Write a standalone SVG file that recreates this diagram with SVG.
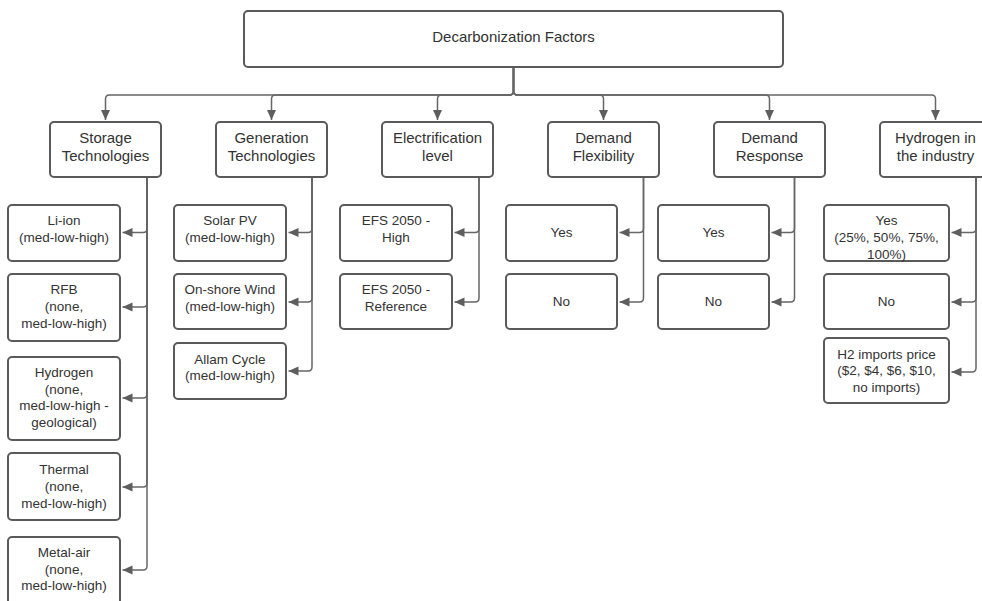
<svg xmlns="http://www.w3.org/2000/svg" width="982" height="601" viewBox="0 0 982 601">
<style>
.box{fill:#fff;stroke:#5a5a5a;stroke-width:2}
.t{font-family:"Liberation Sans",Arial,sans-serif;fill:#333;text-anchor:middle}
.l1{font-size:15px}
.l2{font-size:13.5px}
.c{fill:none;stroke:#666;stroke-width:1.5}
</style>
<defs>
<marker id="ah" markerUnits="userSpaceOnUse" markerWidth="10" markerHeight="10" viewBox="0 0 10 10" refX="10" refY="5" orient="auto">
<path d="M0,0.5 L10,5 L0,9.5 z" fill="#5e5e5e"/>
</marker>
</defs>
<rect width="982" height="601" fill="#fff"/>
<g id="connectors">
<path class="c" marker-end="url(#ah)" d="M513.5 67 V91 Q513.5 95 509.5 95 H109.5 Q105.5 95 105.5 99 V120"/>
<path class="c" marker-end="url(#ah)" d="M513.5 67 V91 Q513.5 95 509.5 95 H275.5 Q271.5 95 271.5 99 V120"/>
<path class="c" marker-end="url(#ah)" d="M513.5 67 V91 Q513.5 95 509.5 95 H441.5 Q437.5 95 437.5 99 V120"/>
<path class="c" marker-end="url(#ah)" d="M513.5 67 V91 Q513.5 95 517.5 95 H599.5 Q603.5 95 603.5 99 V120"/>
<path class="c" marker-end="url(#ah)" d="M513.5 67 V91 Q513.5 95 517.5 95 H765.5 Q769.5 95 769.5 99 V120"/>
<path class="c" marker-end="url(#ah)" d="M513.5 67 V91 Q513.5 95 517.5 95 H931.5 Q935.5 95 935.5 99 V120"/>

<path class="c" marker-end="url(#ah)" d="M147 177 V228.5 Q147 232.5 143 232.5 H122.5"/>
<path class="c" marker-end="url(#ah)" d="M147 177 V303 Q147 307 143 307 H122.5"/>
<path class="c" marker-end="url(#ah)" d="M147 177 V394 Q147 398 143 398 H122.5"/>
<path class="c" marker-end="url(#ah)" d="M147 177 V483 Q147 487 143 487 H122.5"/>
<path class="c" marker-end="url(#ah)" d="M147 177 V566 Q147 570 143 570 H122.5"/>

<path class="c" marker-end="url(#ah)" d="M312 177 V228.5 Q312 232.5 308 232.5 H288.5"/>
<path class="c" marker-end="url(#ah)" d="M312 177 V298 Q312 302 308 302 H288.5"/>
<path class="c" marker-end="url(#ah)" d="M312 177 V367 Q312 371 308 371 H288.5"/>

<path class="c" marker-end="url(#ah)" d="M479 177 V228.5 Q479 232.5 475 232.5 H454.5"/>
<path class="c" marker-end="url(#ah)" d="M479 177 V298 Q479 302 475 302 H454.5"/>

<path class="c" marker-end="url(#ah)" d="M643.5 177 V228.5 Q643.5 232.5 639.5 232.5 H619.5"/>
<path class="c" marker-end="url(#ah)" d="M643.5 177 V298 Q643.5 302 639.5 302 H619.5"/>

<path class="c" marker-end="url(#ah)" d="M794.5 177 V228.5 Q794.5 232.5 790.5 232.5 H771.5"/>
<path class="c" marker-end="url(#ah)" d="M794.5 177 V298 Q794.5 302 790.5 302 H771.5"/>

<path class="c" marker-end="url(#ah)" d="M976 177 V228.5 Q976 232.5 972 232.5 H951.5"/>
<path class="c" marker-end="url(#ah)" d="M976 177 V298 Q976 302 972 302 H951.5"/>
<path class="c" marker-end="url(#ah)" d="M976 177 V368 Q976 372 972 372 H951.5"/>
</g>

<g id="root">
<rect class="box" x="244" y="11" width="539" height="56" rx="4"/>
<text class="t l1" x="513.5" y="42">Decarbonization Factors</text>
</g>

<g id="storage">
<rect class="box" x="50" y="122" width="111" height="55" rx="4"/>
<text class="t l1" x="105.5" y="143">Storage</text>
<text class="t l1" x="105.5" y="161">Technologies</text>
</g>
<g id="generation">
<rect class="box" x="216" y="122" width="111" height="55" rx="4"/>
<text class="t l1" x="271.5" y="143">Generation</text>
<text class="t l1" x="271.5" y="161">Technologies</text>
</g>
<g id="electrification">
<rect class="box" x="382" y="122" width="111" height="55" rx="4"/>
<text class="t l1" x="437.5" y="143">Electrification</text>
<text class="t l1" x="437.5" y="161">level</text>
</g>
<g id="demand-flexibility">
<rect class="box" x="548" y="122" width="111" height="55" rx="4"/>
<text class="t l1" x="603.5" y="143">Demand</text>
<text class="t l1" x="603.5" y="161">Flexibility</text>
</g>
<g id="demand-response">
<rect class="box" x="714" y="122" width="111" height="55" rx="4"/>
<text class="t l1" x="769.5" y="143">Demand</text>
<text class="t l1" x="769.5" y="161">Response</text>
</g>
<g id="hydrogen-industry">
<rect class="box" x="880" y="122" width="111" height="55" rx="4"/>
<text class="t l1" x="935.5" y="143">Hydrogen in</text>
<text class="t l1" x="935.5" y="161">the industry</text>
</g>

<g id="li-ion">
<rect class="box" x="8" y="205" width="112" height="56" rx="4"/>
<text class="t l2" x="64" y="225">Li-ion</text>
<text class="t l2" x="64" y="242">(med-low-high)</text>
</g>
<g id="rfb">
<rect class="box" x="8" y="274" width="112" height="67" rx="4"/>
<text class="t l2" x="64" y="294">RFB</text>
<text class="t l2" x="64" y="311">(none,</text>
<text class="t l2" x="64" y="327.5">med-low-high)</text>
</g>
<g id="hydrogen-storage">
<rect class="box" x="8" y="357" width="112" height="83" rx="4"/>
<text class="t l2" x="64" y="377">Hydrogen</text>
<text class="t l2" x="64" y="393.7">(none,</text>
<text class="t l2" x="64" y="410.3">med-low-high -</text>
<text class="t l2" x="64" y="427">geological)</text>
</g>
<g id="thermal">
<rect class="box" x="8" y="453" width="112" height="67" rx="4"/>
<text class="t l2" x="64" y="474">Thermal</text>
<text class="t l2" x="64" y="491">(none,</text>
<text class="t l2" x="64" y="507.7">med-low-high)</text>
</g>
<g id="metal-air">
<rect class="box" x="8" y="537" width="112" height="68" rx="4"/>
<text class="t l2" x="64" y="557">Metal-air</text>
<text class="t l2" x="64" y="573.7">(none,</text>
<text class="t l2" x="64" y="590.3">med-low-high)</text>
</g>

<g id="solar-pv">
<rect class="box" x="174" y="205" width="112" height="56" rx="4"/>
<text class="t l2" x="230" y="225">Solar PV</text>
<text class="t l2" x="230" y="242">(med-low-high)</text>
</g>
<g id="onshore-wind">
<rect class="box" x="174" y="274" width="112" height="55" rx="4"/>
<text class="t l2" x="230" y="294">On-shore Wind</text>
<text class="t l2" x="230" y="311">(med-low-high)</text>
</g>
<g id="allam-cycle">
<rect class="box" x="174" y="343" width="112" height="56" rx="4"/>
<text class="t l2" x="230" y="363.5">Allam Cycle</text>
<text class="t l2" x="230" y="380">(med-low-high)</text>
</g>

<g id="efs-high">
<rect class="box" x="340" y="205" width="112" height="56" rx="4"/>
<text class="t l2" x="396" y="225">EFS 2050 -</text>
<text class="t l2" x="396" y="242">High</text>
</g>
<g id="efs-reference">
<rect class="box" x="340" y="274" width="112" height="55" rx="4"/>
<text class="t l2" x="396" y="294">EFS 2050 -</text>
<text class="t l2" x="396" y="311">Reference</text>
</g>

<g id="df-yes">
<rect class="box" x="506" y="205" width="111" height="56" rx="4"/>
<text class="t l2" x="561.5" y="237">Yes</text>
</g>
<g id="df-no">
<rect class="box" x="506" y="274" width="111" height="55" rx="4"/>
<text class="t l2" x="561.5" y="306">No</text>
</g>

<g id="dr-yes">
<rect class="box" x="658" y="205" width="111" height="56" rx="4"/>
<text class="t l2" x="713.5" y="237">Yes</text>
</g>
<g id="dr-no">
<rect class="box" x="658" y="274" width="111" height="55" rx="4"/>
<text class="t l2" x="713.5" y="306">No</text>
</g>

<g id="h-yes">
<rect class="box" x="824" y="205" width="125" height="56" rx="4"/>
<text class="t l2" x="886.5" y="225">Yes</text>
<text class="t l2" x="886.5" y="242">(25%, 50%, 75%,</text>
<text class="t l2" x="886.5" y="258.5">100%)</text>
</g>
<g id="h-no">
<rect class="box" x="824" y="274" width="125" height="55" rx="4"/>
<text class="t l2" x="886.5" y="306">No</text>
</g>
<g id="h2-imports">
<rect class="box" x="824" y="338" width="125" height="65" rx="4"/>
<text class="t l2" x="886.5" y="358.5">H2 imports price</text>
<text class="t l2" x="886.5" y="375">($2, $4, $6, $10,</text>
<text class="t l2" x="886.5" y="391.5">no imports)</text>
</g>
</svg>
